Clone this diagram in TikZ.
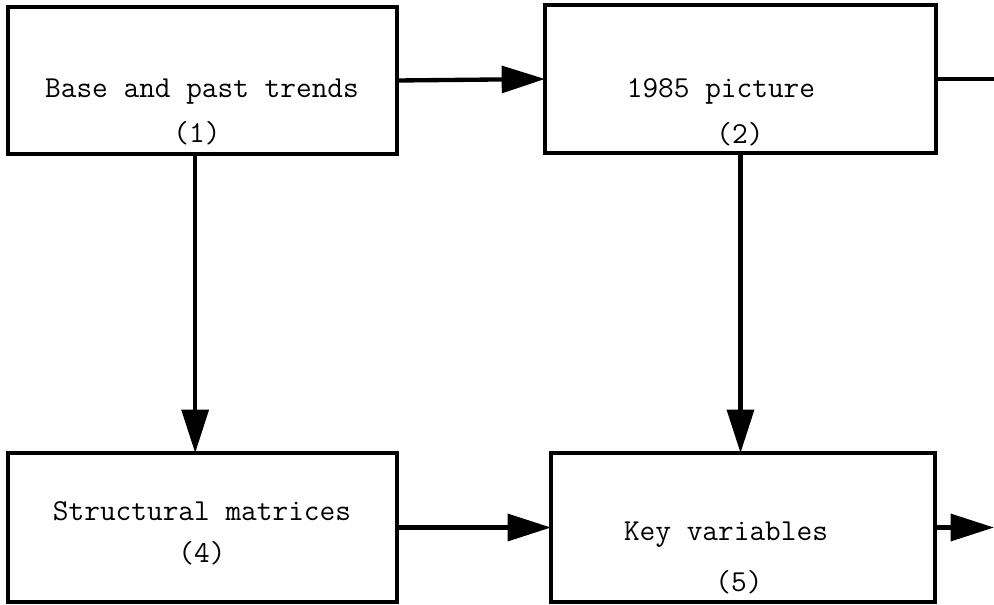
\documentclass[tikz,border=0pt]{standalone}
\usepackage{fontspec}
\usetikzlibrary{arrows.meta}

\begin{document}
\begin{tikzpicture}[x=0.03cm,y=-0.03cm,
    box/.style={draw, line width=0.1cm, inner sep=0pt, outer sep=0pt},
    txt/.style={anchor=base, inner sep=0pt, font=\ttfamily\fontsize{26}{30}\selectfont},
    arr/.style={line width=0.13cm, -{Triangle[length=1.3cm,width=0.8cm]}}]
    \useasboundingbox (0,0) rectangle (994,604);
    % boxes
    \node[box, minimum width=11.67cm, minimum height=4.41cm] (base) at (202.5,80.5) {};
    \node[box, minimum width=11.73cm, minimum height=4.44cm] (pic) at (740.5,79) {};
    \node[box, minimum width=11.67cm, minimum height=4.47cm] (matr) at (202.5,527.5) {};
    \node[box, minimum width=11.52cm, minimum height=4.47cm] (keyv) at (743,527.5) {};
    % texts
    \node[txt] (basename) at (202,97) {Base and past trends};
    \node[txt] (basenum) at (197,142) {(1)};
    \node[txt] (picname) at (721,97) {1985 picture};
    \node[txt] (picnum) at (740,143) {(2)};
    \node[txt] (matrname) at (202,520) {Structural matrices};
    \node[txt] (matrnum) at (202,562) {(4)};
    \node[txt] (keyvname) at (726,540) {Key variables};
    \node[txt] (keyvnum) at (739,591) {(5)};
    % connectors
    \coordinate (picout) at (994,79);
    \coordinate (keyvout) at (994,527.5);
    \draw[arr] (base.east) -- (pic.west);
    \draw[arr] ([xshift=-0.22cm]base.south) -- ([xshift=-0.22cm]matr.north);
    \draw[arr] (pic.south) -- (pic.south |- keyv.north);
    \draw[arr] (matr.east) -- (keyv.west);
    \draw[arr] (keyv.east) -- (keyvout);
    \draw[line width=0.1cm] (pic.east) -- (picout);
\end{tikzpicture}
\end{document}
